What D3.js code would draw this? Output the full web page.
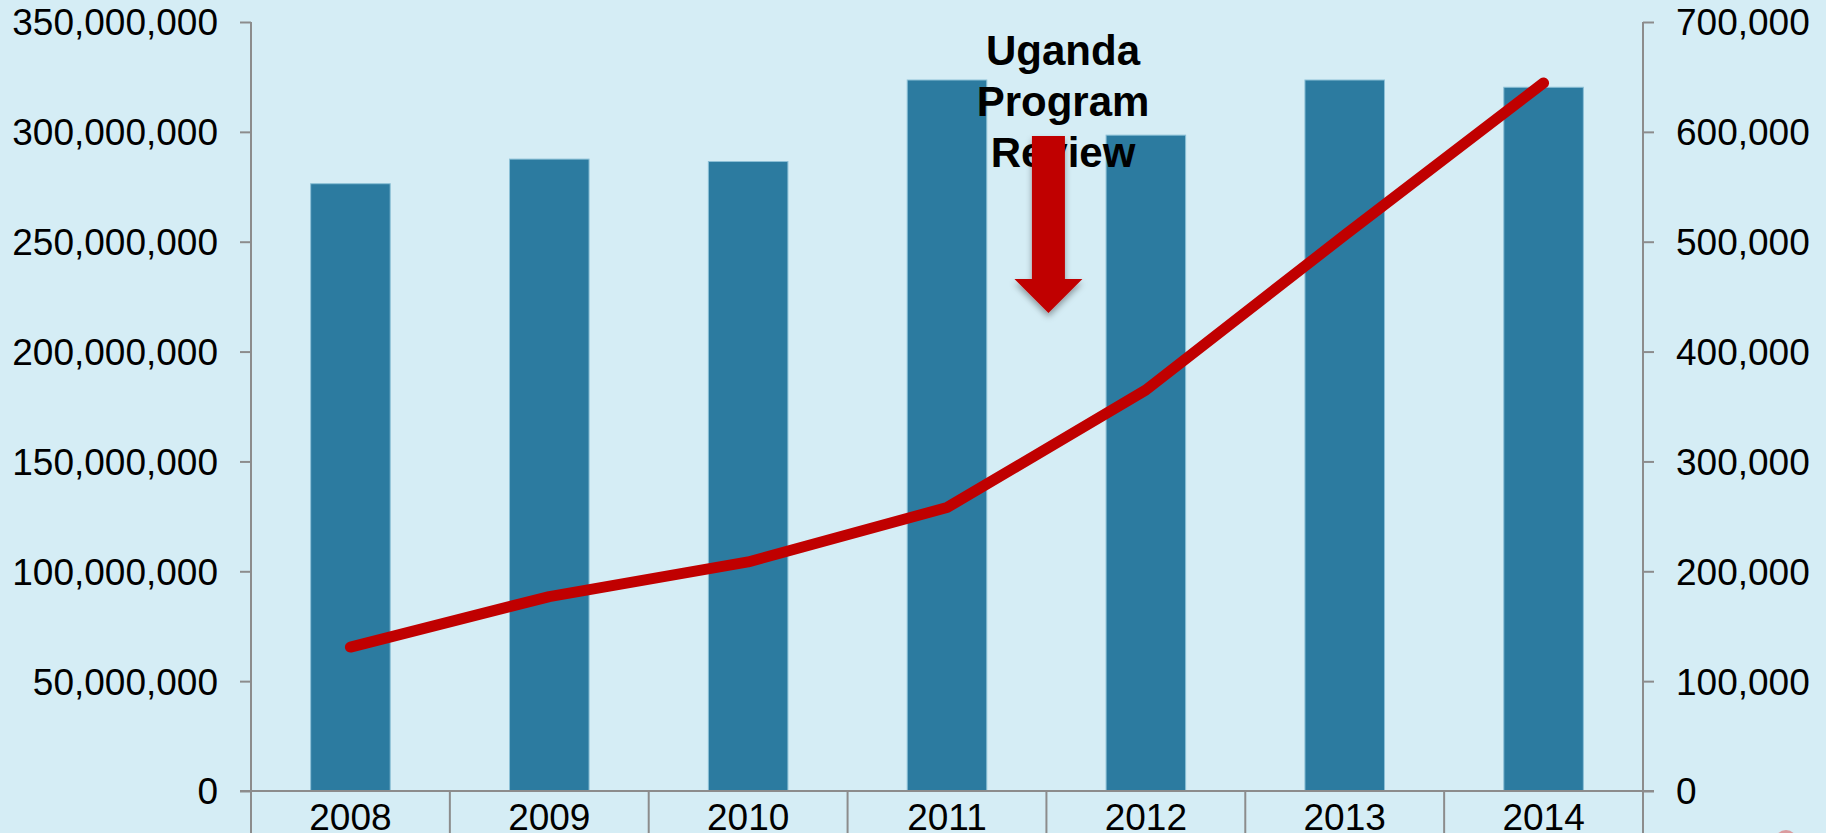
<!DOCTYPE html>
<html>
<head>
<meta charset="utf-8">
<script src="https://cdn.jsdelivr.net/npm/d3@7"></script>
<style>
  html, body { margin: 0; padding: 0; background: #d5edf5; overflow: hidden; }
  text { font-family: "Liberation Sans", Arial, sans-serif; }
</style>
</head>
<body>
<div id="chart"></div>
<script>
const years = ['2008', '2009', '2010', '2011', '2012', '2013', '2014'];
const barValues = [276400000, 287600000, 286500000, 323600000, 298500000, 323600000, 320300000];
const lineValues = [131000, 177000, 208500, 258000, 365000, 506000, 644500];
const leftTicks = [0, 50000000, 100000000, 150000000, 200000000, 250000000, 300000000, 350000000];
const rightTicks = [0, 100000, 200000, 300000, 400000, 500000, 600000, 700000];
const noteLines = ['Uganda', 'Program', 'Review'];

const width = 1826;
const height = 833;
const plotLeft = 251, plotRight = 1643, plotTop = 22, plotBottom = 791;

const svg = d3.select('#chart')
    .append('svg')
    .attr('width', width)
    .attr('height', height);

svg.append('rect')
    .attr('width', width)
    .attr('height', height)
    .attr('fill', '#d5edf5');

const defs = svg.append('defs');
const shadow = defs.append('filter')
    .attr('id', 'shadow')
    .attr('x', '-50%').attr('y', '-20%')
    .attr('width', '200%').attr('height', '150%');
shadow.append('feDropShadow')
    .attr('dx', 0)
    .attr('dy', 4)
    .attr('stdDeviation', 3)
    .attr('flood-color', '#000')
    .attr('flood-opacity', 0.35);

const x = d3.scaleBand()
    .domain(years)
    .range([plotLeft, plotRight])
    .paddingInner(0.6)
    .paddingOuter(0.3);

const y = d3.scaleLinear().domain([0, 350000000]).range([plotBottom, plotTop]);
const y2 = d3.scaleLinear().domain([0, 700000]).range([plotBottom, plotTop]);

const fmt = d3.format(',');
const axisColor = '#8c8c8c';

// bars
svg.append('g')
    .selectAll('rect')
    .data(barValues)
    .enter().append('rect')
    .attr('x', (d, i) => x(years[i]))
    .attr('y', d => y(d))
    .attr('width', x.bandwidth())
    .attr('height', d => y(0) - y(d))
    .attr('fill', '#2c7ba0')
    .attr('stroke', '#8cc0d6')
    .attr('stroke-width', 1);

// left axis
const leftAxis = svg.append('g')
    .attr('transform', `translate(${plotLeft},0)`)
    .call(d3.axisLeft(y).tickValues(leftTicks).tickFormat(fmt).tickSize(11).tickPadding(22));

// right axis
const rightAxis = svg.append('g')
    .attr('transform', `translate(${plotRight},0)`)
    .call(d3.axisRight(y2).tickValues(rightTicks).tickFormat(fmt).tickSize(11).tickPadding(22));

[leftAxis, rightAxis].forEach(g => {
    g.select('.domain').remove();
    g.selectAll('line').attr('stroke', axisColor).attr('stroke-width', 2);
    g.selectAll('text')
        .attr('font-size', 37)
        .attr('fill', '#000')
        .attr('dy', '0.35em');
});

// vertical axis lines reaching down past the baseline
[plotLeft, plotRight].forEach(px => {
    svg.append('line')
        .attr('x1', px).attr('x2', px)
        .attr('y1', plotTop).attr('y2', height)
        .attr('stroke', axisColor)
        .attr('stroke-width', 2);
});

// baseline
svg.append('line')
    .attr('x1', plotLeft - 11).attr('x2', plotRight + 11)
    .attr('y1', y(0)).attr('y2', y(0))
    .attr('stroke', axisColor)
    .attr('stroke-width', 2);

// category separators
const step = x.step();
svg.append('g')
    .selectAll('line')
    .data(years.slice(1))
    .enter().append('line')
    .attr('x1', d => x(d) - step * x.paddingInner() / 2)
    .attr('x2', d => x(d) - step * x.paddingInner() / 2)
    .attr('y1', y(0))
    .attr('y2', height)
    .attr('stroke', axisColor)
    .attr('stroke-width', 2);

// category labels
svg.append('g')
    .selectAll('text')
    .data(years)
    .enter().append('text')
    .attr('x', d => x(d) + x.bandwidth() / 2)
    .attr('y', 830)
    .attr('text-anchor', 'middle')
    .attr('font-size', 37)
    .attr('fill', '#000')
    .text(d => d);

// line series
const line = d3.line()
    .x((d, i) => x(years[i]) + x.bandwidth() / 2)
    .y(d => y2(d));

svg.append('path')
    .datum(lineValues)
    .attr('d', line)
    .attr('fill', 'none')
    .attr('stroke', '#c00000')
    .attr('stroke-width', 11)
    .attr('stroke-linecap', 'round')
    .attr('stroke-linejoin', 'round');

// annotation text
const noteX = 1063;
svg.append('g')
    .selectAll('text')
    .data(noteLines)
    .enter().append('text')
    .attr('x', noteX)
    .attr('y', (d, i) => 65 + i * 51)
    .attr('text-anchor', 'middle')
    .attr('font-size', 42)
    .attr('font-weight', 'bold')
    .attr('fill', '#000')
    .text(d => d);

// annotation arrow, between 2011 and 2012
const ax = x('2012') - step * x.paddingInner() / 2 + 2;
const shaftW = 33, headW = 68;
const arrowTop = 136, headBase = 279, tip = 313;
svg.append('path')
    .attr('d', `M${ax - shaftW / 2},${arrowTop} L${ax + shaftW / 2},${arrowTop} L${ax + shaftW / 2},${headBase} ` +
        `L${ax + headW / 2},${headBase} L${ax},${tip} L${ax - headW / 2},${headBase} L${ax - shaftW / 2},${headBase} Z`)
    .attr('fill', '#c00000')
    .attr('filter', 'url(#shadow)');

// legend marker peeking in at the bottom edge
svg.append('circle')
    .attr('cx', 1786)
    .attr('cy', 841)
    .attr('r', 11)
    .attr('fill', '#e06666')
    .attr('opacity', 0.6);
</script>
</body>
</html>
